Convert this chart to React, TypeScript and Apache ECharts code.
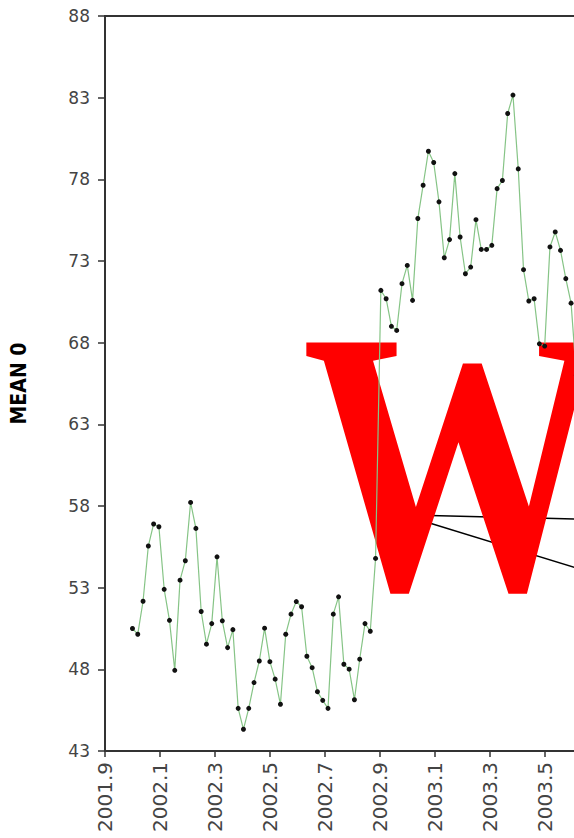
import React, { useEffect, useRef } from "react";
import * as echarts from "echarts";

// Weekly observations starting at 2002.0 (decimal years)
const START_YEAR = 2002.0;
const WEEKS_PER_YEAR = 52;
const meanValues: number[] = [
  50.5, 50.15, 52.17, 55.55, 56.9, 56.73, 52.9, 51.0, 47.94, 53.46,
  54.65, 58.22, 56.63, 51.54, 49.54, 50.8, 54.89, 50.97, 49.33, 50.43,
  45.61, 44.33, 45.61, 47.19, 48.51, 50.52, 48.47, 47.4, 45.86, 50.15,
  51.38, 52.15, 51.83, 48.8, 48.1, 46.63, 46.1, 45.61, 51.38, 52.44,
  48.31, 48.01, 46.14, 48.62, 50.8, 50.33, 54.79, 71.2, 70.69, 69.0,
  68.75, 71.61, 72.73, 70.59, 75.6, 77.64, 79.72, 79.03, 76.62, 73.2,
  74.31, 78.35, 74.47, 72.22, 72.63, 75.53, 73.71, 73.71, 73.96, 77.43,
  77.93, 82.03, 83.16, 78.64, 72.47, 70.55, 70.69, 67.93, 67.79, 73.86,
  74.78, 73.65, 71.92, 70.42, 66.0,
];
const yearsOfWeeks: number[] = meanValues.map((_, i) => START_YEAR + i / WEEKS_PER_YEAR);

const xTickValues: number[] = [2001.9, 2002.1, 2002.3, 2002.5, 2002.7, 2002.9, 2003.1, 2003.3, 2003.5, 2003.7, 2003.9, 2004.1, 2004.3];
const xLabelValues: number[] = [2001.9, 2002.1, 2002.3, 2002.5, 2002.7, 2002.9, 2003.1, 2003.3, 2003.5];
const yTickValues: number[] = [43, 48, 53, 58, 63, 68, 73, 78, 83, 88];
const yAxisName = "MEAN 0";
const watermark = "W";

export default function App() {
  const ref = useRef<HTMLDivElement>(null);
  useEffect(() => {
    if (!ref.current) return;
    const chart = echarts.init(ref.current, null, { renderer: "svg" });
    const labelFont = "DejaVu Sans";
    chart.setOption({
      animation: false,
      backgroundColor: "#ffffff",
      grid: {
        left: 105,
        top: 16,
        width: 659.5,
        height: 735,
        show: true,
        borderColor: "#333",
        borderWidth: 2,
        backgroundColor: "transparent",
      },
      xAxis: {
        type: "value",
        min: 2001.9,
        max: 2004.3,
        axisLine: { show: true, lineStyle: { color: "#333", width: 2 } },
        axisTick: { show: true, length: 6, lineStyle: { color: "#333", width: 1.5 }, customValues: xTickValues },
        axisLabel: {
          customValues: xLabelValues,
          rotate: 90,
          margin: 11,
          fontSize: 20,
          color: "#444",
          fontFamily: labelFont,
          formatter: (v: number) => v.toFixed(1),
        },
        splitLine: { show: false },
      },
      yAxis: {
        type: "value",
        min: 43,
        max: 88,
        name: yAxisName,
        nameLocation: "middle",
        nameRotate: 90,
        nameGap: 76,
        nameTextStyle: {
          fontSize: 21,
          fontWeight: "bold",
          color: "#000",
          fontFamily: "Liberation Sans Narrow, DejaVu Sans Condensed, sans-serif",
        },
        axisLine: { show: true, lineStyle: { color: "#333", width: 2 } },
        axisTick: { show: true, length: 7, lineStyle: { color: "#333", width: 1.5 }, customValues: yTickValues },
        axisLabel: {
          customValues: yTickValues,
          margin: 15,
          fontSize: 17,
          color: "#444",
          fontFamily: labelFont,
        },
        splitLine: { show: false },
      },
      series: [
        {
          type: "line",
          data: yearsOfWeeks.map((x, i) => [x, meanValues[i]]),
          symbol: "circle",
          symbolSize: 5,
          showSymbol: true,
          itemStyle: { color: "#111" },
          lineStyle: { color: "#86c486", width: 1.2 },
          z: 5,
        },
      ],
      graphic: {
        elements: [
          {
            type: "line",
            z: 1,
            shape: { x1: 410, y1: 515, x2: 700, y2: 522 },
            style: { stroke: "#000", lineWidth: 1.5 },
          },
          {
            type: "line",
            z: 1,
            shape: { x1: 410, y1: 517, x2: 700, y2: 606 },
            style: { stroke: "#000", lineWidth: 1.5 },
          },
          {
            type: "text",
            z: 2,
            x: 302,
            y: 461.6,
            scaleX: 0.93,
            scaleY: 1.136,
            style: {
              legacy: false,
              text: watermark,
              fontFamily: "Liberation Serif, DejaVu Serif, serif",
              fontWeight: "bold",
              fontSize: 330,
              fill: "#ff0000",
              align: "left",
              verticalAlign: "middle",
            },
          },
        ],
      },
    });
    return () => chart.dispose();
  }, []);
  return (
    <div style={{ position: "fixed", left: 0, top: 0, width: 574, height: 838, overflow: "hidden", background: "#fff" }}>
      <div ref={ref} style={{ width: 800, height: 838 }} />
    </div>
  );
}
